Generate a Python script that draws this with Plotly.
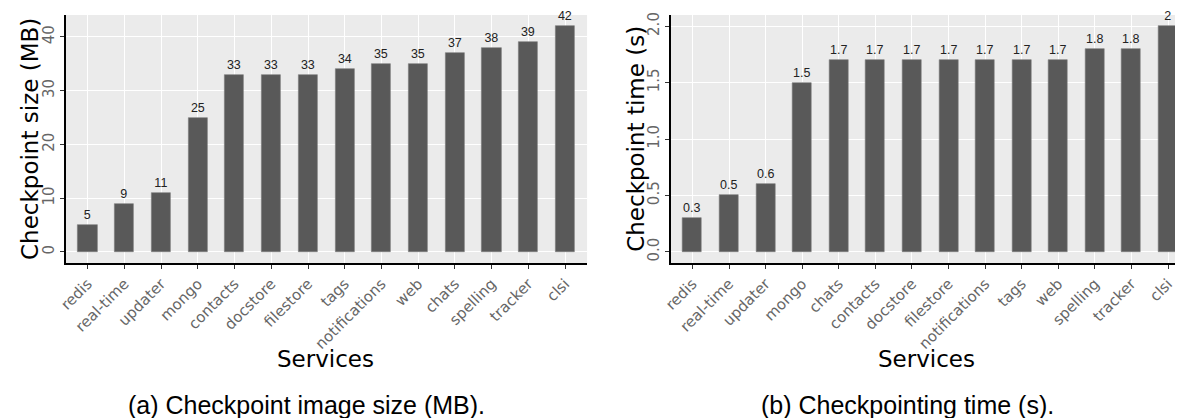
import plotly.graph_objects as go

# ---- data ----
services_size = ["redis", "real-time", "updater", "mongo", "contacts", "docstore", "filestore",
                 "tags", "notifications", "web", "chats", "spelling", "tracker", "clsi"]
size_mb = [5, 9, 11, 25, 33, 33, 33, 34, 35, 35, 37, 38, 39, 42]

services_time = ["redis", "real-time", "updater", "mongo", "chats", "contacts", "docstore",
                 "filestore", "notifications", "tags", "web", "spelling", "tracker", "clsi"]
time_s = [0.3, 0.5, 0.6, 1.5, 1.7, 1.7, 1.7, 1.7, 1.7, 1.7, 1.7, 1.8, 1.8, 2.0]

ytitle_a = "Checkpoint size (MB)"
ytitle_b = "Checkpoint time (s)"
xtitle = "Services"
caption_a = "(a) Checkpoint image size (MB)."
caption_b = "(b) Checkpointing time (s)."

# page body has an 8px margin, so the figure is drawn from (8, 8)
OFF = 8
W, H = 1183 - OFF, 418 - OFF
BAR = "#595959"
PANEL = "#EBEBEB"
TICKFONT = dict(family="DejaVu Sans", size=15, color="#666666")

def px_x(x):
    return (x - OFF) / W

def px_y(y):
    return 1 - (y - OFF) / H

fig = go.Figure()
fig.add_trace(go.Bar(
    x=services_size, y=size_mb, xaxis="x", yaxis="y",
    width=0.52, marker=dict(color=BAR, line=dict(color="#7a7a7a", width=0.6)),
    text=[f"{v:g}" for v in size_mb], textposition="outside", cliponaxis=False,
    textfont=dict(family="Liberation Sans", size=12.5, color="#222222"),
    showlegend=False))
fig.add_trace(go.Bar(
    x=services_time, y=time_s, xaxis="x2", yaxis="y2",
    width=0.52, marker=dict(color=BAR, line=dict(color="#7a7a7a", width=0.6)),
    text=[f"{v:g}" for v in time_s], textposition="outside", cliponaxis=False,
    textfont=dict(family="Liberation Sans", size=12.5, color="#222222"),
    showlegend=False))

common_x = dict(type="category", showgrid=True, gridcolor="white", gridwidth=1.2,
                showline=True, linecolor="black", linewidth=2, ticks="outside",
                ticklen=4, tickcolor="#333333", tickwidth=1, tickangle=-45,
                tickfont=TICKFONT, zeroline=False)
common_y = dict(showgrid=True, gridcolor="white", gridwidth=1.2, showline=True,
                linecolor="black", linewidth=2, ticks="outside", ticklen=4,
                tickcolor="#333333", tickwidth=1, tickangle=-90, tickfont=TICKFONT,
                zeroline=False)

y_dom = [px_y(262), px_y(12)]

fig.update_layout(
    width=W, height=H,
    margin=dict(l=0, r=0, t=0, b=0),
    paper_bgcolor="white", plot_bgcolor=PANEL,
    bargap=0,
    xaxis=dict(common_x, domain=[px_x(58), px_x(583)], range=[-0.6, 13.6], anchor="y"),
    yaxis=dict(common_y, domain=y_dom, range=[-2.1, 44.1], dtick=10, tick0=0, anchor="x"),
    xaxis2=dict(common_x, domain=[px_x(667), 1.0], range=[-0.6, 13.41], anchor="y2"),
    yaxis2=dict(common_y, domain=y_dom, range=[-0.1, 2.1], dtick=0.5, tick0=0,
                tickformat=".1f", anchor="x2"),
)

ann_font = dict(family="DejaVu Sans", size=23, color="black")
cap_font = dict(family="Liberation Sans", size=25, color="black")
annotations = [
    dict(text=ytitle_a, x=px_x(22), y=px_y(137), textangle=-90, font=ann_font),
    dict(text=ytitle_b, x=px_x(632), y=px_y(137), textangle=-90, font=ann_font),
    dict(text=xtitle, x=px_x(320), y=px_y(359), font=ann_font),
    dict(text=xtitle, x=px_x(925), y=px_y(359), font=ann_font),
    dict(text=caption_a, x=px_x(300), y=px_y(405), font=cap_font),
    dict(text=caption_b, x=px_x(906), y=px_y(405), font=cap_font),
]
for a in annotations:
    a.update(xref="paper", yref="paper", showarrow=False, xanchor="center", yanchor="middle")
fig.update_layout(annotations=annotations)

fig.write_html("out.html")
